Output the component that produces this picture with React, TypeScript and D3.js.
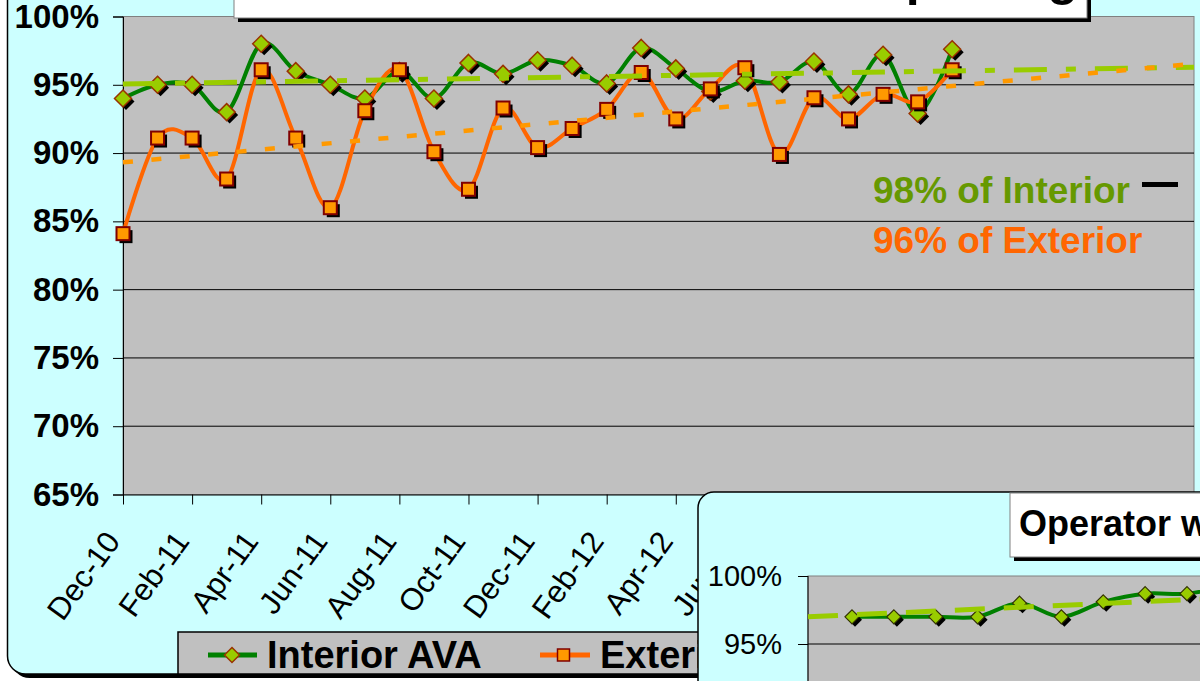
import { useEffect, useRef } from "react";
import * as d3 from "d3";

// Monthly categories (Dec-10 .. Dec-12)
const months = [
  "Dec-10", "Jan-11", "Feb-11", "Mar-11", "Apr-11", "May-11", "Jun-11", "Jul-11",
  "Aug-11", "Sep-11", "Oct-11", "Nov-11", "Dec-11", "Jan-12", "Feb-12", "Mar-12",
  "Apr-12", "May-12", "Jun-12", "Jul-12", "Aug-12", "Sep-12", "Oct-12", "Nov-12", "Dec-12",
];

// Series values in percent
const interiorAva = [
  94.0, 95.0, 95.0, 93.0, 98.0, 96.0, 95.0, 94.0, 96.0, 94.0, 96.6, 95.8, 96.8,
  96.4, 95.1, 97.7, 96.2, 94.5, 95.3, 95.2, 96.7, 94.3, 97.2, 92.9, 97.6,
];
const exteriorAva = [
  84.1, 91.1, 91.1, 88.1, 96.1, 91.1, 86.0, 93.1, 96.1, 90.1, 87.35, 93.3, 90.4,
  91.8, 93.2, 95.9, 92.5, 94.7, 96.25, 89.9, 94.05, 92.5, 94.3, 93.75, 96.1,
];

// Axis tick labels (every two months, axis runs to Jul-13)
const axisLabels = [
  "Dec-10", "Feb-11", "Apr-11", "Jun-11", "Aug-11", "Oct-11", "Dec-11", "Feb-12",
  "Apr-12", "Jun-12", "Aug-12", "Oct-12", "Dec-12", "Feb-13", "Apr-13", "Jun-13",
];
const yTicks = [65, 70, 75, 80, 85, 90, 95, 100];

// Inset chart (operator) values
const insetValues = [97.0, 97.0, 97.0, 97.0, 98.0, 97.0, 98.1, 98.7, 98.7, 99.3];
const insetTrend = [97.0, 98.3];
const insetTicks = [95, 100];

const FONT = "Arial, 'Liberation Sans', sans-serif";

function linReg(vals: number[]) {
  const mx = d3.mean(vals, (d, i) => i)!;
  const my = d3.mean(vals)!;
  let sxy = 0, sxx = 0;
  vals.forEach((v, i) => { sxy += (i - mx) * (v - my); sxx += (i - mx) * (i - mx); });
  const slope = sxy / sxx;
  return (i: number) => my + slope * (i - mx);
}

export default function App() {
  const ref = useRef<SVGSVGElement>(null);

  useEffect(() => {
    const svg = d3.select(ref.current);
    svg.selectAll("*").remove();

    const x = d3.scaleLinear().domain([0, 31]).range([123, 1194]);
    const y = d3.scaleLinear().domain([65, 100]).range([494.5, 16.5]);

    // chart frame + shadow
    svg.append("rect").attr("x", 11.5).attr("y", -36).attr("width", 1300).attr("height", 714)
      .attr("rx", 18).attr("fill", "#000");
    svg.append("rect").attr("x", 7.5).attr("y", -40).attr("width", 1300).attr("height", 714)
      .attr("rx", 18).attr("fill", "#CCFFFF").attr("stroke", "#000").attr("stroke-width", 1.5);

    // plot area
    svg.append("rect").attr("x", x(0)).attr("y", y(100)).attr("width", x(31) - x(0))
      .attr("height", y(65) - y(100)).attr("fill", "#C0C0C0").attr("stroke", "#808080");

    // gridlines
    svg.append("g").selectAll("line").data(yTicks.filter(t => t > 65 && t < 100)).join("line")
      .attr("x1", x(0)).attr("x2", x(31)).attr("y1", d => y(d)).attr("y2", d => y(d))
      .attr("stroke", "#000").attr("stroke-width", 1);

    // axes
    const yAxis = svg.append("g").attr("transform", `translate(${x(0)},0)`)
      .call(d3.axisLeft(y).tickValues(yTicks).tickSize(10).tickFormat(d => `${d}%`));
    yAxis.select(".domain").attr("stroke", "#000");
    yAxis.selectAll("text").attr("font-family", FONT).attr("font-size", 33)
      .attr("font-weight", "bold").attr("fill", "#000").attr("x", -24);

    const xAxis = svg.append("g").attr("transform", `translate(0,${y(65)})`)
      .call(d3.axisBottom(x).tickValues(axisLabels.map((d, i) => i * 2)).tickSize(10)
        .tickSizeOuter(0).tickFormat((d, i) => axisLabels[i]));
    xAxis.select(".domain").attr("stroke", "#000");
    xAxis.selectAll("text").attr("font-family", FONT).attr("font-size", 31)
      .attr("fill", "#000").attr("text-anchor", "end").attr("y", 0).attr("dy", 0)
      .attr("transform", "translate(-2,47) rotate(-54)");

    // series lines (smoothed)
    const line = d3.line<number>().x((d, i) => x(i)).y(d => y(d)).curve(d3.curveCardinal.tension(0));
    svg.append("path").datum(interiorAva).attr("d", line).attr("fill", "none")
      .attr("stroke", "#008000").attr("stroke-width", 4);
    svg.append("path").datum(exteriorAva).attr("d", line).attr("fill", "none")
      .attr("stroke", "#FF6600").attr("stroke-width", 4);

    const diamond = (cx: number, cy: number, r: number) =>
      `M${cx},${cy - r}L${cx + r},${cy}L${cx},${cy + r}L${cx - r},${cy}Z`;

    // interior markers
    const gi = svg.append("g");
    gi.selectAll("path.sh").data(interiorAva).join("path").attr("class", "sh")
      .attr("d", (d, i) => diamond(x(i) + 3, y(d) + 3, 8.5)).attr("fill", "#000");
    gi.selectAll("path.mk").data(interiorAva).join("path").attr("class", "mk")
      .attr("d", (d, i) => diamond(x(i), y(d), 8.5)).attr("fill", "#99CC00")
      .attr("stroke", "#993300").attr("stroke-width", 1.5);

    // exterior markers
    const ge = svg.append("g");
    ge.selectAll("rect.sh").data(exteriorAva).join("rect").attr("class", "sh")
      .attr("x", (d, i) => x(i) - 6.5 + 3).attr("y", d => y(d) - 6.5 + 3)
      .attr("width", 13).attr("height", 13).attr("fill", "#000");
    ge.selectAll("rect.mk").data(exteriorAva).join("rect").attr("class", "mk")
      .attr("x", (d, i) => x(i) - 6.5).attr("y", d => y(d) - 6.5)
      .attr("width", 13).attr("height", 13).attr("fill", "#FF9900")
      .attr("stroke", "#800000").attr("stroke-width", 2);

    // linear trendlines, forecast to axis end
    const tInt = linReg(interiorAva);
    const tExt = linReg(exteriorAva);
    svg.append("line").attr("x1", x(0)).attr("x2", x(31)).attr("y1", y(tInt(0))).attr("y2", y(tInt(31)))
      .attr("stroke", "#99CC00").attr("stroke-width", 5).attr("stroke-dasharray", "33 19 10 19");
    svg.append("line").attr("x1", x(0)).attr("x2", x(31)).attr("y1", y(tExt(0))).attr("y2", y(tExt(31)))
      .attr("stroke", "#FF9900").attr("stroke-width", 4.5).attr("stroke-dasharray", "10 18.5");

    // annotations
    svg.append("text").attr("x", 873).attr("y", 203).attr("font-family", FONT).attr("font-size", 37)
      .attr("font-weight", "bold").attr("fill", "#669900").text("98% of Interior");
    svg.append("line").attr("x1", 1142).attr("x2", 1178).attr("y1", 184.5).attr("y2", 184.5)
      .attr("stroke", "#000").attr("stroke-width", 5);
    svg.append("text").attr("x", 873).attr("y", 253).attr("font-family", FONT).attr("font-size", 37)
      .attr("font-weight", "bold").attr("fill", "#FF6600").text("96% of Exterior");

    // title box (mostly above the visible area)
    svg.append("rect").attr("x", 238).attr("y", -36).attr("width", 853).attr("height", 58).attr("fill", "#000");
    svg.append("rect").attr("x", 234).attr("y", -40).attr("width", 853).attr("height", 58)
      .attr("fill", "#fff").attr("stroke", "#808080");
    svg.append("text").attr("x", 1078).attr("y", -5).attr("text-anchor", "end").attr("font-family", FONT)
      .attr("font-size", 50).attr("font-weight", "bold").attr("fill", "#000")
      .text("Interior & Exterior AVA Reporting");

    // legend
    const lg = svg.append("g");
    lg.append("rect").attr("x", 178).attr("y", 632).attr("width", 700).attr("height", 42)
      .attr("fill", "#C0C0C0").attr("stroke", "#000").attr("stroke-width", 1.5);
    lg.append("line").attr("x1", 208).attr("x2", 257).attr("y1", 655).attr("y2", 655)
      .attr("stroke", "#008000").attr("stroke-width", 5);
    lg.append("path").attr("d", diamond(232, 655, 7.5)).attr("fill", "#99CC00")
      .attr("stroke", "#993300").attr("stroke-width", 1.5);
    lg.append("text").attr("x", 267).attr("y", 668).attr("font-family", FONT).attr("font-size", 38)
      .attr("font-weight", "bold").text("Interior AVA");
    lg.append("line").attr("x1", 540).attr("x2", 590).attr("y1", 655).attr("y2", 655)
      .attr("stroke", "#FF6600").attr("stroke-width", 5);
    lg.append("rect").attr("x", 557.5).attr("y", 649).attr("width", 12).attr("height", 12)
      .attr("fill", "#FF9900").attr("stroke", "#800000").attr("stroke-width", 1.5);
    lg.append("text").attr("x", 600).attr("y", 668).attr("font-family", FONT).attr("font-size", 38)
      .attr("font-weight", "bold").text("Exterior AVA");

    // ---------- inset chart ----------
    const ix = d3.scaleLinear().domain([0, 8]).range([852, 1187]);
    const iy = d3.scaleLinear().domain([95, 100]).range([644, 576]);
    const ins = svg.append("g");
    ins.append("rect").attr("x", 698).attr("y", 492).attr("width", 600).attr("height", 300)
      .attr("rx", 16).attr("fill", "#CCFFFF").attr("stroke", "#000").attr("stroke-width", 1.5);
    ins.append("rect").attr("x", 808).attr("y", iy(100)).attr("width", 500).attr("height", 200)
      .attr("fill", "#C0C0C0").attr("stroke", "#808080");
    ins.append("line").attr("x1", 808).attr("x2", 1300).attr("y1", iy(95)).attr("y2", iy(95))
      .attr("stroke", "#000");
    const iAxis = ins.append("g").attr("transform", "translate(808,0)")
      .call(d3.axisLeft(iy).tickValues(insetTicks).tickSize(10).tickFormat(d => `${d}%`));
    iAxis.select(".domain").attr("stroke", "#000").attr("d", "M0,576V700");
    iAxis.selectAll("text").attr("font-family", FONT).attr("font-size", 29).attr("fill", "#000").attr("x", -26);

    const iline = d3.line<number>().x((d, i) => ix(i)).y(d => iy(d)).curve(d3.curveCardinal.tension(0));
    ins.append("path").datum(insetValues).attr("d", iline).attr("fill", "none")
      .attr("stroke", "#008000").attr("stroke-width", 4);
    ins.selectAll("path.sh").data(insetValues).join("path").attr("class", "sh")
      .attr("d", (d, i) => diamond(ix(i) + 3, iy(d) + 3, 7)).attr("fill", "#000");
    ins.selectAll("path.mk").data(insetValues).join("path").attr("class", "mk")
      .attr("d", (d, i) => diamond(ix(i), iy(d), 7)).attr("fill", "#99CC00")
      .attr("stroke", "#333300").attr("stroke-width", 1.2);
    ins.append("line").attr("x1", 808).attr("x2", 1200)
      .attr("y1", iy(insetTrend[0])).attr("y2", iy(insetTrend[1]))
      .attr("stroke", "#99CC00").attr("stroke-width", 5).attr("stroke-dasharray", "30 19");

    ins.append("rect").attr("x", 1014).attr("y", 497).attr("width", 300).attr("height", 64).attr("fill", "#000");
    ins.append("rect").attr("x", 1010).attr("y", 493).attr("width", 300).attr("height", 64)
      .attr("fill", "#fff").attr("stroke", "#808080");
    ins.append("text").attr("x", 1019).attr("y", 536).attr("font-family", FONT).attr("font-size", 36)
      .attr("font-weight", "bold").text("Operator with Interior AVA");
  }, []);

  return (
    <svg ref={ref} width={1200} height={681}
      style={{ position: "absolute", left: 0, top: 0, background: "#fff" }} />
  );
}
